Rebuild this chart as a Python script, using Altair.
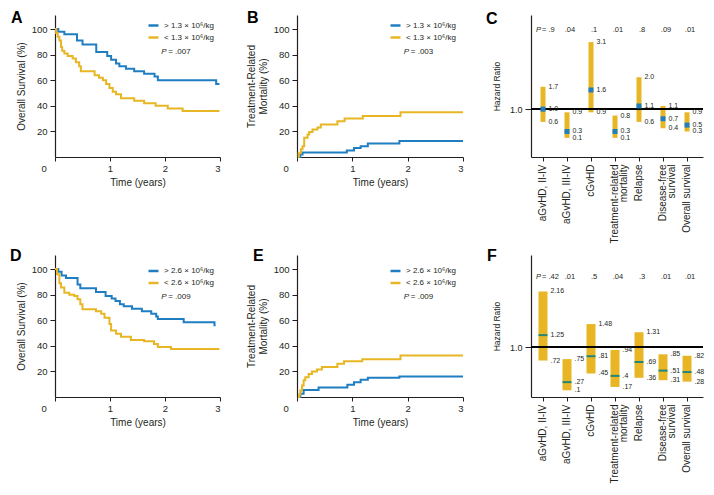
import altair as alt
import pandas as pd

FONT = "Liberation Sans"
BLUE = "#1f7ec2"
GOLD = "#e8b624"
TEAL = "#23867a"
INK = "#231f20"

# ---------------- KM data (time in years, percent) ----------------
a_hi_t = [0, 0.06, 0.17, 0.40, 0.50, 0.75, 0.95, 1.02, 1.11, 1.17, 1.29, 1.44, 1.62, 1.81, 1.87, 2.93, 2.99]
a_hi_v = [100, 98, 96, 91, 88, 82, 79, 76, 73, 71, 69, 67, 65, 63, 60, 57, 57]
a_lo_t = [0, 0.02, 0.05, 0.08, 0.11, 0.13, 0.17, 0.23, 0.32, 0.38, 0.44, 0.47, 0.72, 0.80, 0.87, 0.93,
          0.99, 1.05, 1.11, 1.20, 1.44, 1.62, 1.83, 2.05, 2.32, 2.99]
a_lo_v = [100, 97, 94, 91, 86, 83, 81, 79, 77, 74, 71, 67, 64, 62, 60, 57,
          54, 51, 49, 46, 44, 42, 40, 38, 36, 36]

b_hi_t = [0.04, 0.06, 0.10, 0.90, 1.03, 1.15, 1.28, 1.85, 3.0]
b_hi_v = [0, 2, 3.5, 5, 7, 8.5, 10.5, 12.5, 12.5]
b_lo_t = [0.02, 0.03, 0.07, 0.10, 0.13, 0.19, 0.22, 0.28, 0.37, 0.43, 0.73, 0.86, 1.19, 1.87, 3.0]
b_lo_v = [0, 3, 6, 8.5, 15, 17.5, 19.5, 21.5, 23, 25.5, 28, 30, 32, 35, 35]

d_hi_t = [0, 0.06, 0.12, 0.20, 0.41, 0.46, 0.745, 0.92, 1.03, 1.10, 1.18, 1.25, 1.40, 1.58, 1.75,
          1.84, 1.87, 2.34, 2.90, 2.92]
d_hi_v = [100, 98, 95, 93, 88, 85, 82, 79, 77, 75, 72.5, 71, 69, 67, 65, 63, 61, 58.5, 56, 56]
d_lo_t = [0, 0.036, 0.08, 0.11, 0.17, 0.26, 0.35, 0.41, 0.46, 0.50, 0.745, 0.84, 0.90, 0.99, 1.02,
          1.11, 1.20, 1.38, 1.62, 1.80, 1.87, 2.11, 2.99]
d_lo_v = [100, 96, 89, 85.5, 81.5, 80, 79, 76.5, 72.5, 68.5, 67, 65, 62, 57, 52,
          49.5, 47, 44.5, 43.5, 41.5, 39, 37.5, 37.5]

e_hi_t = [0.03, 0.06, 0.12, 0.39, 0.91, 1.03, 1.15, 1.28, 1.85, 3.0]
e_hi_v = [0, 2.5, 5.5, 7.5, 9.5, 11.5, 13.5, 15, 16, 16]
e_lo_t = [0.02, 0.04, 0.06, 0.09, 0.12, 0.15, 0.21, 0.27, 0.36, 0.45, 0.73, 0.85, 1.18, 1.87, 3.0]
e_lo_v = [0, 2, 5, 9, 13, 15.5, 18, 20, 21.5, 23.5, 26, 28, 29.5, 32.5, 32.5]

lab13_hi = "> 1.3 \u00d7 10\u2076/kg"
lab13_lo = "< 1.3 \u00d7 10\u2076/kg"
lab26_hi = "> 2.6 \u00d7 10\u2076/kg"
lab26_lo = "< 2.6 \u00d7 10\u2076/kg"
p_a, p_b, p_d, p_e = ".007", ".003", ".009", ".009"

# ---------------- Forest data ----------------
outcomes = ["aGvHD, II-IV", "aGvHD, III-IV", "cGvHD", "Treatment-related|mortality",
            "Relapse", "Disease-free|survival", "Overall survival"]
c_lo = [0.6, 0.1, 0.9, 0.1, 0.6, 0.4, 0.3]
c_hr = [1.0, 0.3, 1.6, 0.3, 1.1, 0.7, 0.5]
c_hi = [1.7, 0.9, 3.1, 0.8, 2.0, 1.1, 0.9]
c_p = [".9", ".04", ".1", ".01", ".8", ".09", ".01"]
f_lo = [0.72, 0.1, 0.45, 0.17, 0.36, 0.31, 0.28]
f_hr = [1.25, 0.27, 0.81, 0.4, 0.69, 0.51, 0.48]
f_hi = [2.16, 0.75, 1.48, 0.94, 1.31, 0.85, 0.82]
f_p = [".42", ".01", ".5", ".04", ".3", ".01", ".01"]


def fmt_c(v):
    return f"{v:.1f}"


def fmt_f(v):
    s = f"{v:g}"
    return s[1:] if s.startswith("0.") else s


def panel_letter(letter, lx, ly):
    return alt.Chart(pd.DataFrame({"l": [letter]})).mark_text(
        align="left", baseline="alphabetic", fontSize=16, fontWeight="bold", font=FONT, color="black"
    ).encode(x=alt.value(lx), y=alt.value(ly), text="l:N")


def km_panel(letter, lx, ly, t_hi, v_hi, t_lo, v_lo, lab_hi, lab_lo, p, ytitle, leg_y, p_v, width):
    df = pd.DataFrame({
        "t": t_hi + t_lo,
        "v": v_hi + v_lo,
        "g": [lab_hi] * len(t_hi) + [lab_lo] * len(t_lo),
    })
    X = alt.X("t:Q", scale=alt.Scale(domain=[0, 3], nice=False, zero=False),
              axis=alt.Axis(values=[0, 1, 2, 3], format="d", title="Time (years)", grid=False,
                            tickSize=4, labelPadding=2, titlePadding=5,
                            labelOffset={"condition": {"test": "datum.value === 0", "value": -14}, "value": 0}))
    Y = alt.Y("v:Q", scale=alt.Scale(domain=[0, 111], nice=False),
              axis=alt.Axis(values=[20, 40, 60, 80, 100], title=ytitle, grid=False,
                            tickSize=5, labelPadding=3, titlePadding=5))
    lines = alt.Chart(df).mark_line(interpolate="step-after", strokeWidth=2).encode(
        x=X, y=Y,
        color=alt.Color("g:N", scale=alt.Scale(domain=[lab_hi, lab_lo], range=[BLUE, GOLD]),
                        legend=alt.Legend(title=None, orient="none", legendX=92, legendY=leg_y,
                                          symbolType="stroke", symbolSize=100, symbolStrokeWidth=2.5,
                                          labelFontSize=8, labelFont=FONT, labelColor=INK,
                                          labelOffset=4, rowPadding=-1, padding=0)),
    )
    pdf = pd.DataFrame({"t": [1.93], "v": [p_v], "p": ["= " + p]})
    p_it = alt.Chart(pdf).mark_text(align="left", baseline="middle", fontStyle="italic", font=FONT,
                                    fontSize=8, color=INK).encode(x=X, y=Y, text=alt.value("P"))
    p_rest = alt.Chart(pdf).mark_text(align="left", baseline="middle", dx=7, font=FONT,
                                      fontSize=8, color=INK).encode(x=X, y=Y, text="p:N")
    return alt.layer(lines, p_it, p_rest, panel_letter(letter, lx, ly)).properties(
        width=width, height=142)


def forest_panel(letter, lx, ly, lo, hr, hi, p, fmt, domain, bar_w, mk_h, mk_color, p_y):
    df = pd.DataFrame({
        "cat": outcomes, "lo": lo, "hr": hr, "hi": hi, "p": p,
        "pf": ["= " + s for s in p],
        "lo_t": [fmt(v) for v in lo], "hr_t": [fmt(v) for v in hr], "hi_t": [fmt(v) for v in hi],
    })
    X = alt.X("cat:N", sort=outcomes,
              scale=alt.Scale(paddingInner=0, paddingOuter=0.083, align=0),
              axis=alt.Axis(title=None, labelAngle=270, labelExpr="split(datum.label, '|')",
                            labelFontSize=10, labelLineHeight=9, tickSize=4, labelPadding=3))

    def Y(field):
        return alt.Y(field, scale=alt.Scale(domain=domain, nice=False, zero=False),
                     axis=alt.Axis(values=[1], format=".1f", title="Hazard Ratio", grid=False,
                                   tickSize=6, labelPadding=3, titlePadding=8,
                                   labelFontSize=9, titleFontSize=8.5))

    base = alt.Chart(df)
    bars = base.mark_bar(size=bar_w, color=GOLD).encode(x=X, y=Y("lo:Q"), y2="hi:Q")
    ref = base.mark_rule(color="black", strokeWidth=1.2).encode(y=alt.datum(1.0))
    mk = base.mark_tick(size=bar_w, thickness=mk_h, color=mk_color, opacity=1).encode(x=X, y=Y("hr:Q"))
    dx = bar_w / 2 + 3
    txt = dict(align="left", baseline="middle", dx=dx, font=FONT, fontSize=7, color=INK)
    t_hi = base.mark_text(**txt).encode(x=X, y=Y("hi:Q"), text="hi_t:N")
    t_hr = base.mark_text(**txt).encode(x=X, y=Y("hr:Q"), text="hr_t:N")
    t_lo = base.mark_text(**txt).encode(x=X, y=Y("lo:Q"), text="lo_t:N")
    first = alt.Chart(df.iloc[:1])
    rest = alt.Chart(df.iloc[1:])
    ptxt = dict(baseline="middle", font=FONT, fontSize=7.5, color=INK)
    p_rest = rest.mark_text(align="center", dx=3, **ptxt).encode(x=X, y=alt.value(p_y), text="p:N")
    p_first_it = first.mark_text(align="left", dx=-7, fontStyle="italic", **ptxt).encode(
        x=X, y=alt.value(p_y), text=alt.value("P"))
    p_first = first.mark_text(align="left", dx=-1, **ptxt).encode(
        x=X, y=alt.value(p_y), text="pf:N")
    return alt.layer(bars, ref, mk, t_hi, t_hr, t_lo, p_rest, p_first_it, p_first,
                     panel_letter(letter, lx, ly)).properties(width=172, height=142)


def spacer(w):
    return alt.Chart(pd.DataFrame({"z": [0]})).mark_point(opacity=0).properties(width=w, height=142)


A = km_panel("A", -44, 8, a_hi_t, a_hi_v, a_lo_t, a_lo_v, lab13_hi, lab13_lo, p_a,
             "Overall Survival (%)", 4, 82, 165)
B = km_panel("B", -50, 8, b_hi_t, b_hi_v, b_lo_t, b_lo_v, lab13_hi, lab13_lo, p_b,
             ["Treatment-Related", "Mortality (%)"], 4, 82, 166)
C = forest_panel("C", -45, 9, c_lo, c_hr, c_hi, c_p, fmt_c, [-0.5, 3.95], 5, 5, BLUE, 15)
D = km_panel("D", -45, 6, d_hi_t, d_hi_v, d_lo_t, d_lo_v, lab26_hi, lab26_lo, p_d,
             "Overall Survival (%)", 9.5, 78, 165)
E = km_panel("E", -44, 6, e_hi_t, e_hi_v, e_lo_t, e_lo_v, lab26_hi, lab26_lo, p_e,
             ["Treatment-Related", "Mortality (%)"], 9.5, 78, 166)
F = forest_panel("F", -44, 6, f_lo, f_hr, f_hi, f_p, fmt_f, [-0.04, 2.92], 9, 2, TEAL, 22)

chart = alt.concat(
    A, spacer(17), B, spacer(8), C,
    D, spacer(17), E, spacer(8), F,
    columns=5, spacing={"row": 98, "column": 30}, bounds="flush",
).resolve_scale(color="independent").properties(
    padding={"left": 2, "top": 2, "right": 0, "bottom": 0}, background="white"
).configure_view(stroke=None).configure_axis(
    labelFont=FONT, titleFont=FONT, labelColor=INK, titleColor=INK, domainColor=INK,
    tickColor=INK, titleFontWeight="normal", labelFontSize=9.5, titleFontSize=10,
    domainWidth=1.2, tickWidth=1, titleLineHeight=12,
)

chart.save("out.html", embed_options={"renderer": "svg", "actions": False})
